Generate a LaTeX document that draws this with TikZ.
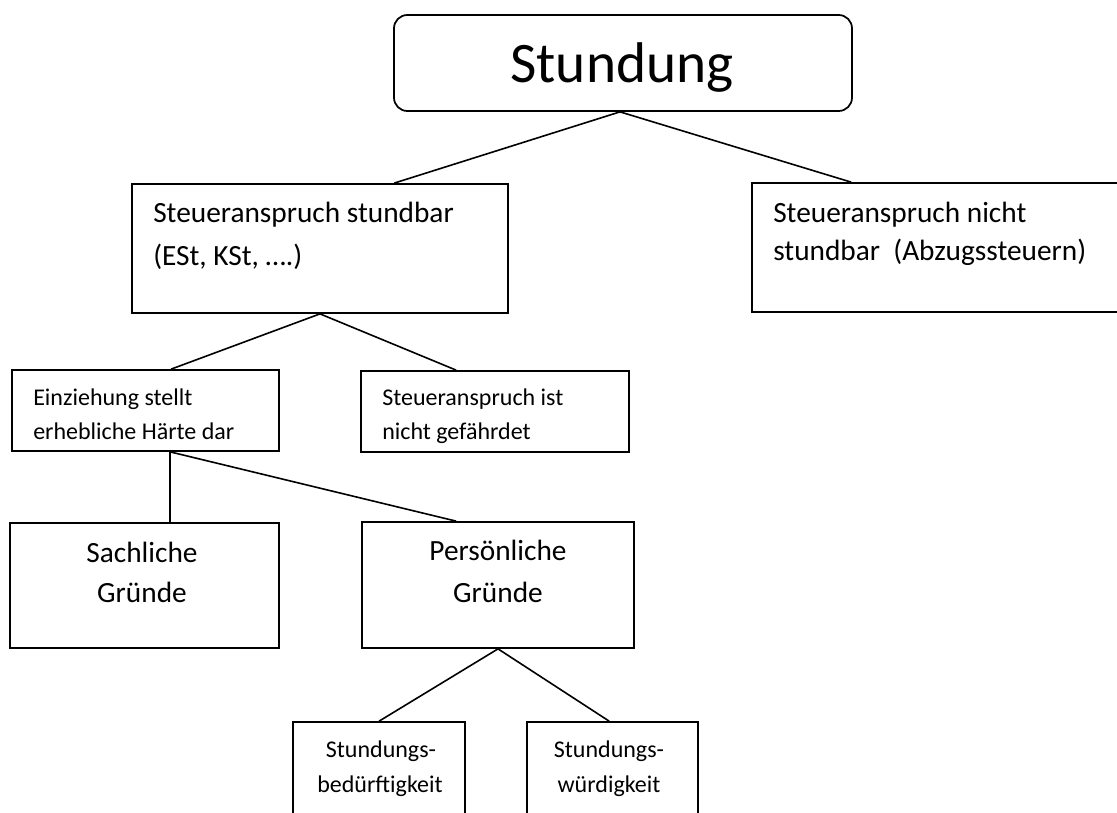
\documentclass[tikz,border=0pt]{standalone}
\usepackage{fontspec}
\setmainfont{Carlito}
\usetikzlibrary{fit,calc}
\tikzset{
  boxstyle/.style={draw=black, line width=1.3pt, inner sep=0pt, fill=none},
  roundbox/.style={boxstyle, rounded corners=10pt},
  conn/.style={draw=black, line width=1.2pt},
  bigtxt/.style={inner sep=0pt, font=\fontsize{43}{50}\selectfont},
  midtxt/.style={inner sep=0pt, font=\fontsize{22}{26}\selectfont},
  smalltxt/.style={inner sep=0pt, font=\fontsize{18}{22}\selectfont},
}
\begin{document}
\begin{tikzpicture}[x=0.75pt,y=-0.75pt]
\clip (0,0) rectangle (1117,813);
\fill[white] (0,0) rectangle (1117,813);
% boxes
\node[roundbox, fit={(394,15)(852,111)}] (stund) {};
\node[boxstyle, fit={(132,184)(508,313)}] (b1) {};
\node[boxstyle, fit={(752,183)(1130,312)}] (b2) {};
\node[boxstyle, fit={(12,370)(279,451)}] (s1) {};
\node[boxstyle, fit={(361,371)(629,452)}] (s2) {};
\node[boxstyle, fit={(10,523)(279,648)}] (g1) {};
\node[boxstyle, fit={(362,522)(634,648)}] (g2) {};
\node[boxstyle, fit={(293,722)(465,830)}] (h1) {};
\node[boxstyle, fit={(527,722)(698,830)}] (h2) {};
% texts
\node[bigtxt, anchor=base] (tstund) at (622,83) {Stundung};
\node[midtxt, anchor=base west] (tb1a) at (153,222) {Steueranspruch stundbar};
\node[midtxt, anchor=base west] (tb1b) at (153,265) {(ESt, KSt, ….)};
\node[midtxt, anchor=base west] (tb2a) at (773,222) {Steueranspruch nicht};
\node[midtxt, anchor=base west] (tb2b) at (773,260) {stundbar\ \ (Abzugssteuern)};
\node[smalltxt, anchor=base west] (ts1a) at (33,405) {Einziehung stellt};
\node[smalltxt, anchor=base west] (ts1b) at (33,439) {erhebliche Härte dar};
\node[smalltxt, anchor=base west] (ts2a) at (382,405) {Steueranspruch ist};
\node[smalltxt, anchor=base west] (ts2b) at (382,439) {nicht gefährdet};
\node[midtxt, anchor=base] (tg1a) at (142,562) {Sachliche};
\node[midtxt, anchor=base] (tg1b) at (142,602) {Gründe};
\node[midtxt, anchor=base] (tg2a) at (498,560) {Persönliche};
\node[midtxt, anchor=base] (tg2b) at (498,602) {Gründe};
\node[smalltxt, anchor=base] (th1a) at (381,757) {Stundungs-};
\node[smalltxt, anchor=base] (th1b) at (380,792) {bedürftigkeit};
\node[smalltxt, anchor=base] (th2a) at (609,757) {Stundungs-};
\node[smalltxt, anchor=base] (th2b) at (609,792) {würdigkeit};
% connectors
\draw[conn] ($(stund.south)+(-3,0)$) -- ($(b1.north west)+(263,0)$);
\draw[conn] ($(stund.south)+(-3,0)$) -- ($(b2.north west)+(100,0)$);
\draw[conn] (b1.south) -- ($(s1.north west)+(160,0)$);
\draw[conn] (b1.south) -- ($(s2.north west)+(96,0)$);
\draw[conn] ($(s1.south west)+(159,0)$) -- ($(g1.north west)+(161,0)$);
\draw[conn] ($(s1.south west)+(159,0)$) -- ($(g2.north west)+(95,0)$);
\draw[conn] (g2.south) -- ($(h1.north west)+(87,0)$);
\draw[conn] (g2.south) -- ($(h2.north west)+(83,0)$);
\end{tikzpicture}
\end{document}
